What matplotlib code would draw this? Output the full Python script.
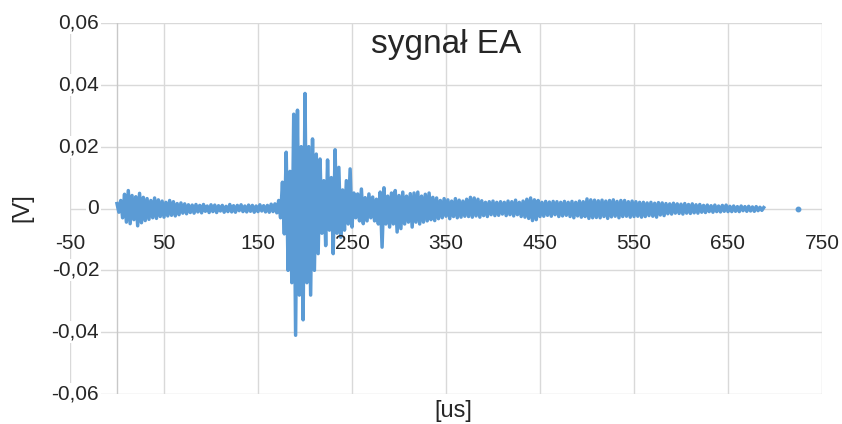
import numpy as np
import matplotlib.pyplot as plt

plt.rcParams['font.family'] = ['Liberation Sans', 'DejaVu Sans']

t_start = 0
t_step = 2
signal_mv = [
    1.6, -1.2, 2.6, -3.0, 4.6, -4.4, 5.8, -4.9, 4.2, -3.6,
    3.8, -5.6, 4.9, -4.6, 3.6, -3.9, 3.2, -3.5, 2.6, -3.0,
    3.4, -3.2, 2.8, -2.6, 2.4, -2.8, 2.0, -2.4, 2.6, -2.2,
    2.2, -2.4, 1.6, -2.0, 1.8, -1.5, 1.5, -1.7, 1.2, -1.3,
    1.1, -1.5, 1.3, -1.1, 1.0, -1.4, 1.3, -0.9, 0.8, -1.3,
    1.2, -1.0, 1.1, -1.3, 0.9, -0.8, 1.0, -1.2, 0.7, -1.0,
    1.3, -1.1, 0.9, -1.2, 1.0, -0.7, 1.2, -1.0, 0.8, -1.1,
    1.1, -0.9, 1.0, -1.2, 0.8, -1.0, 1.2, -0.8, 0.9, -1.1,
    1.0, -1.2, 1.4, -1.0, 1.5, -1.4, 2.6, -3.0, 8.5, -8.2,
    18.2, -20.0, 12.0, -24.0, 30.5, -41.0, 31.8, -28.0, 20.0, -36.0,
    37.2, -24.0, 20.0, -28.0, 22.5, -20.0, 17.6, -14.6, 16.0, -8.0,
    9.0, -12.0, 15.7, -7.0, 10.0, -14.6, 19.0, -8.0, 13.3, -9.3,
    6.0, -7.0, 9.0, -5.0, 12.8, -6.0, 5.0, -3.0, 4.7, -4.0,
    6.3, -4.9, 3.5, -4.0, 4.7, -3.0, 3.7, -4.0, 3.0, -5.0,
    5.3, -12.5, 6.7, -5.0, 4.0, -6.0, 5.0, -5.0, 5.8, -7.6,
    4.2, -6.5, 5.3, -5.0, 4.0, -4.4, 4.8, -6.0, 5.0, -4.4,
    5.3, -5.0, 4.0, -4.4, 4.6, -4.0, 5.0, -3.6, 3.6, -3.9,
    3.4, -3.3, 2.6, -3.0, 3.2, -2.5, 2.8, -3.3, 2.4, -2.6,
    3.2, -3.0, 2.7, -2.8, 2.4, -2.5, 3.0, -2.6, 3.6, -2.8,
    3.4, -2.4, 3.0, -2.8, 2.5, -2.3, 2.0, -2.6, 2.2, -2.0,
    2.4, -2.3, 2.0, -2.2, 2.2, -1.8, 2.0, -2.3, 2.4, -2.0,
    2.2, -2.4, 2.7, -2.0, 2.0, -2.6, 2.4, -2.8, 3.0, -3.2,
    3.4, -3.9, 2.8, -3.6, 2.6, -2.6, 2.0, -2.5, 2.3, -2.2,
    2.1, -2.5, 2.3, -2.0, 2.2, -2.6, 2.0, -2.4, 2.3, -2.2,
    2.0, -2.6, 2.3, -3.0, 2.0, -2.4, 2.4, -2.8, 2.2, -2.6,
    3.1, -3.2, 2.8, -3.0, 2.7, -2.9, 2.5, -3.0, 2.7, -2.6,
    2.4, -3.2, 2.6, -2.7, 2.8, -2.5, 2.3, -3.0, 2.6, -2.6,
    2.6, -2.5, 2.2, -2.8, 2.4, -2.6, 2.2, -2.5, 2.0, -2.8,
    2.0, -2.6, 1.8, -2.3, 2.0, -2.5, 1.7, -2.8, 1.9, -2.1,
    1.8, -2.3, 1.6, -1.7, 1.5, -1.8, 1.7, -1.5, 1.5, -1.6,
    1.4, -1.8, 1.6, -1.5, 1.3, -1.6, 1.5, -1.4, 1.2, -1.5,
    1.3, -1.2, 1.0, -1.3, 1.1, -1.0, 0.9, -1.2, 1.1, -1.0,
    0.8, -1.1, 1.0, -0.9, 1.1, -1.0, 0.7, -1.0, 0.8, -0.9,
    0.6, -1.0, 0.8, -0.7, 0.6, -0.9, 0.7, -0.8, 0.5, -0.9,
    0.6, -0.7, 0.4, -0.6, 0.3,
]
# lone sample after the gap
lone_t = [724]
lone_v = [0.0]

x_ticks = [-50, 50, 150, 250, 350, 450, 550, 650, 750]
x_labels = ['-50', '50', '150', '250', '350', '450', '550', '650', '750']
y_ticks = [-0.06, -0.04, -0.02, 0, 0.02, 0.04, 0.06]
y_labels = ['-0,06', '-0,04', '-0,02', '0', '0,02', '0,04', '0,06']

t = t_start + t_step * np.arange(len(signal_mv))
v = np.array(signal_mv) / 1000.0

fig = plt.figure(figsize=(8.42, 4.24), dpi=100)
ax = fig.add_axes([70 / 842, 30 / 424, 752 / 842, 371 / 424])
ax.set_xlim(-50, 750)
ax.set_ylim(-0.06, 0.06)
for s in ax.spines.values():
    s.set_visible(False)
ax.set_xticks([])
ax.set_yticks([])

grid_c = '#d9d9d9'
for xv in x_ticks:
    ax.axvline(xv, color=grid_c, lw=1.0, zorder=0)
for yv in y_ticks:
    ax.axhline(yv, color=grid_c, lw=1.0, zorder=0)
ax.axvline(0, color='#c8c8c8', lw=1.0, zorder=0.5)

ax.plot(t, v, color='#5b9bd5', lw=2.5, solid_joinstyle='round', zorder=2)
ax.plot(lone_t, lone_v, 'o', color='#5b9bd5', ms=3.2, zorder=2)

# y tick labels next to the axis at x=0
for yv, lab in zip(y_ticks, y_labels):
    ax.text(-19, yv, lab, ha='right', va='center', fontsize=15, color='#262626',
            bbox=dict(facecolor='white', edgecolor='none', pad=1), zorder=3)

# x tick labels next to the axis at y=0
for xv, lab in zip(x_ticks, x_labels):
    ax.text(xv, -0.0113, lab, ha='center', va='center', fontsize=15,
            color='#262626', zorder=3)

fig.text(446 / 842, 1 - 45 / 424, 'sygnał EA', ha='center', va='center',
         fontsize=24, color='#262626')
fig.text(453 / 842, 1 - 411 / 424, '[us]', ha='center', va='center',
         fontsize=17, color='#262626')
fig.text(22 / 842, 1 - 208 / 424, '[V]', ha='center', va='center',
         rotation=90, fontsize=17, color='#262626')

fig.savefig('out.png', dpi=100)
